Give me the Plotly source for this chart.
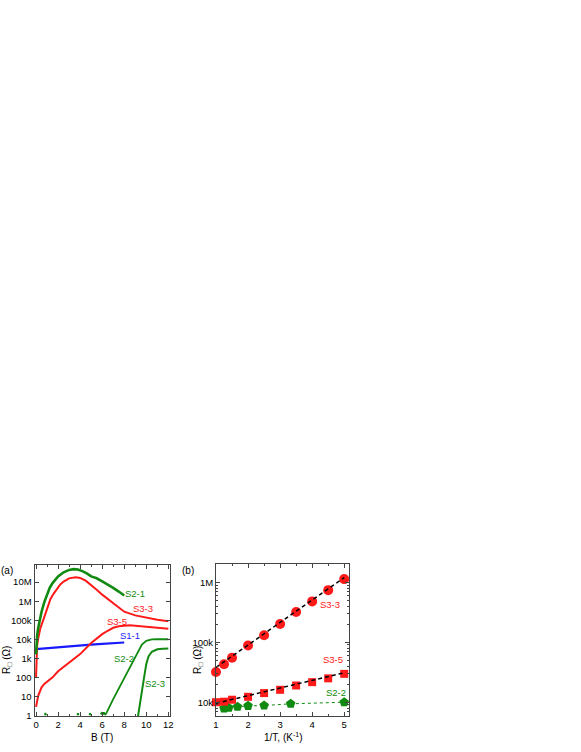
import plotly.graph_objects as go

# ---------- panel (a): R vs B ----------
s21_b = [0, 0.05, 0.1, 0.2, 0.35, 0.5, 0.75, 1, 1.25, 1.5, 1.75, 2, 2.5, 3, 3.4, 3.8, 4.2, 4.6, 5, 5.5, 6, 6.5, 7, 7.5, 8]
s21_r = [1.6e3, 7.9e3, 1.6e4, 4.0e4, 1.26e5, 2.8e5, 8.9e5, 2.2e6, 5.2e6, 8.9e6, 1.4e7, 2.0e7, 3.3e7, 4.4e7, 4.8e7, 4.6e7, 3.8e7, 2.9e7, 2.0e7, 1.6e7, 1.1e7, 7.6e6, 5.0e6, 3.2e6, 2.0e6]

s33_b = [0, 0.02, 0.05, 0.1, 0.2, 0.4, 0.7, 1.0, 1.3, 1.6, 1.9, 2.2, 2.5, 3, 3.6, 4, 4.5, 5, 5.5, 6, 6.5, 7, 7.5, 8, 9, 10, 11, 12]
s33_r = [100, 630, 2.0e3, 5.0e3, 1.12e4, 4.0e4, 1.2e5, 4.0e5, 1.26e6, 2.5e6, 4.5e6, 7.6e6, 1.07e7, 1.58e7, 1.82e7, 1.66e7, 1.2e7, 7.1e6, 4.0e6, 2.2e6, 1.3e6, 7.6e5, 4.5e5, 2.8e5, 1.8e5, 1.35e5, 1.05e5, 8.9e4]

s35_b = [0, 0.05, 0.1, 0.2, 0.35, 0.5, 0.75, 1, 1.5, 2, 3, 4, 5, 6, 6.5, 7, 7.5, 8, 8.5, 9, 10, 11, 12]
s35_r = [2.8, 3.5, 5.6, 11, 20, 30, 45, 60, 100, 210, 560, 1.66e3, 6.3e3, 1.86e4, 2.8e4, 4.0e4, 4.8e4, 5.2e4, 5.4e4, 5.2e4, 4.7e4, 4.0e4, 3.6e4]

s11_b = [0, 1, 2, 3, 4, 5, 6, 7, 8]
s11_r = [3.0e3, 3.4e3, 3.8e3, 4.3e3, 4.8e3, 5.25e3, 5.75e3, 6.3e3, 6.75e3]

s22_b = [0.8, 0.85, 0.9, None, 3.75, 3.8, 3.85, None, 4.85, 4.9, 4.95, None,
         5.85, 5.95, 6.05, 6.15, 6.25, 6.3, 6.4, 6.5, 6.7, 7, 7.5, 8, 8.5, 9, 9.3, 9.6, 10, 10.5, 11, 12]
s22_r = [1.02, 1.35, 1.02, None, 1.02, 1.3, 1.02, None, 1.02, 1.3, 1.02, None,
         1.15, 1.35, 1.1, 1.45, 1.15, 1.12, 1.4, 2.0, 3.2, 7.1, 25, 100, 355, 1.26e3, 2.8e3, 5.2e3, 8.3e3, 9.8e3, 1.0e4, 1.0e4]

s23_b = [9.2, 9.4, 9.6, 9.8, 10, 10.2, 10.5, 11, 11.5, 12]
s23_r = [0.6, 2.8, 16, 100, 500, 1.26e3, 2.2e3, 3.0e3, 3.2e3, 3.3e3]

# ---------- panel (b): R vs 1/T ----------
invT = [1, 1.25, 1.5, 2, 2.5, 3, 3.5, 4, 4.5, 5]
s33_t = [3.2e4, 4.3e4, 5.5e4, 8.8e4, 1.31e5, 2.02e5, 3.2e5, 4.8e5, 7.4e5, 1.13e6]
s35_t = [1.0e4, 1.02e4, 1.1e4, 1.23e4, 1.42e4, 1.61e4, 1.9e4, 2.16e4, 2.5e4, 2.97e4]
s22_x = [1.25, 1.4, 1.67, 2, 2.5, 3.33, 5]
s22_t = [7.9e3, 8.1e3, 8.4e3, 8.7e3, 8.8e3, 9.4e3, 1.0e4]
fit_x = [1, 5]
fit33 = [3.8e4, 1.2e6]
fit35 = [9.6e3, 3.1e4]

GREEN = "#108a10"
RED = "#ff1a1a"
BLUE = "#1a1aff"

# positions worked out in screen pixels (body margin removed below)
W, H = 581, 752
def px(x):
    return x / W
def py(y):
    return 1 - y / H

fig = go.Figure()

def line(x, y, color, width=2, **kw):
    fig.add_trace(go.Scatter(x=x, y=y, mode="lines", line=dict(color=color, width=width),
                             connectgaps=False, showlegend=False, **kw))

line(s22_b, s22_r, GREEN, 1.8)
line(s23_b, s23_r, GREEN, 2)
line(s11_b, s11_r, BLUE, 2.2)
line(s35_b, s35_r, RED, 2)
line(s33_b, s33_r, RED, 2)
line(s21_b, s21_r, GREEN, 2.6)

# panel b
fig.add_trace(go.Scatter(x=s22_x, y=s22_t, mode="lines+markers", xaxis="x2", yaxis="y2",
                         line=dict(color=GREEN, width=1, dash="dot"),
                         marker=dict(symbol="pentagon", size=10, color=GREEN),
                         cliponaxis=False, showlegend=False))
fig.add_trace(go.Scatter(x=invT, y=s35_t, mode="markers", xaxis="x2", yaxis="y2",
                         marker=dict(symbol="square", size=8, color=RED),
                         cliponaxis=False, showlegend=False))
fig.add_trace(go.Scatter(x=invT, y=s33_t, mode="markers", xaxis="x2", yaxis="y2",
                         marker=dict(symbol="circle", size=10, color=RED),
                         cliponaxis=False, showlegend=False))
for fy in (fit33, fit35):
    fig.add_trace(go.Scatter(x=fit_x, y=fy, mode="lines", xaxis="x2", yaxis="y2",
                             line=dict(color="black", width=1.5, dash="4px,3px"),
                             showlegend=False))

axis_common = dict(showline=True, linecolor="#444", linewidth=1, mirror="ticks",
                   ticks="inside", ticklen=4, tickcolor="#444", showgrid=False, zeroline=False,
                   automargin=False, tickfont=dict(size=9.5, color="black"))

fig.update_layout(
    width=W, height=H, margin=dict(l=0, r=0, t=0, b=0),
    paper_bgcolor="white", plot_bgcolor="white",
    font=dict(family="Liberation Sans, Arial", color="black"),
    xaxis=dict(domain=[px(34.5), px(170)], range=[-0.14, 12.15], tickvals=[0, 2, 4, 6, 8, 10, 12],
               minor=dict(dtick=1, tick0=0, ticks="inside", ticklen=2, tickcolor="#444"),
               anchor="y", **axis_common),
    yaxis=dict(domain=[py(716), py(565)], type="log", range=[-0.03, 7.9],
               tickvals=[1, 10, 100, 1e3, 1e4, 1e5, 1e6, 1e7],
               ticktext=["1", "10", "100", "1k", "10k", "100k", "1M", "10M"],
               anchor="x", **axis_common),
    xaxis2=dict(domain=[px(216), px(348.7)], range=[1, 5.14], tickvals=[1, 2, 3, 4, 5],
                minor=dict(dtick=0.5, tick0=0, ticks="inside", ticklen=2, tickcolor="#444"),
                anchor="y2", **axis_common),
    yaxis2=dict(domain=[py(716), py(564)], type="log", range=[3.77, 6.305],
                tickvals=[1e4, 1e5, 1e6], ticktext=["10k", "100k", "1M"],
                minor=dict(dtick="D1", ticks="inside", ticklen=2, tickcolor="#444"),
                anchor="x2", **axis_common),
)

lab_a = [("S2-1", 9.0, 6.42, GREEN), ("S3-3", 9.73, 5.63, RED), ("S3-5", 7.32, 4.93, RED),
         ("S1-1", 8.55, 4.2, BLUE), ("S2-2", 7.95, 3.0, GREEN), ("S2-3", 10.82, 1.7, GREEN)]
for t, x, y, c in lab_a:
    fig.add_annotation(text=t, x=x, y=y, xref="x", yref="y", showarrow=False,
                       xanchor="center", yanchor="middle", font=dict(size=9.5, color=c))
lab_b = [("S3-3", 4.56, 5.633, RED), ("S3-5", 4.65, 4.705, RED), ("S2-2", 4.75, 4.167, GREEN)]
for t, x, y, c in lab_b:
    fig.add_annotation(text=t, x=x, y=y, xref="x2", yref="y2", showarrow=False,
                       xanchor="center", yanchor="middle", font=dict(size=9.5, color=c))

def paper(text, x, y, angle=0, size=10):
    fig.add_annotation(text=text, x=px(x), y=py(y), xref="paper", yref="paper",
                       xanchor="center", yanchor="middle",
                       showarrow=False, textangle=angle, font=dict(size=size, color="black"))

paper("(a)", 7, 570)
paper("(b)", 188, 570)
paper("B (T)", 102, 737)
paper("1/T, (K<sup>-1</sup>)", 283, 737)
paper("R<sub>□</sub> (Ω)", 7, 660, angle=-90)
paper("R<sub>□</sub> (Ω)", 198, 660, angle=-90)

fig.write_html("out.html", config={"displayModeBar": False},
               post_script="document.body.style.margin='0';")
